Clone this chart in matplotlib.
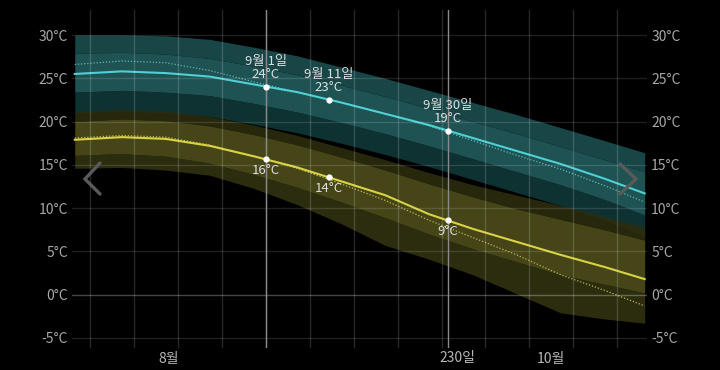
import numpy as np
import matplotlib
matplotlib.use('Agg')
import matplotlib.pyplot as plt
from matplotlib.lines import Line2D

plt.rcParams['font.family'] = ['Noto Sans CJK KR', 'DejaVu Sans']

# day index: 8월 1일 = 0
days = [0.5, 8, 15, 22, 29, 36, 43, 50, 57, 64, 71, 78, 85, 91.4]

# high temperature (teal)
hi_line = [25.5, 25.8, 25.6, 25.2, 24.3, 23.4, 22.2, 20.9, 19.6, 18.1, 16.6, 15.1, 13.4, 11.7]
hi_dot = [26.6, 27.0, 26.8, 25.9, 24.6, 23.4, 22.2, 20.9, 19.5, 17.8, 16.1, 14.5, 12.6, 10.7]
hi_outer_top = [30.0, 30.0, 29.9, 29.5, 28.6, 27.6, 26.3, 25.0, 23.6, 22.2, 20.8, 19.3, 17.8, 16.4]
hi_inner_top = [27.9, 28.0, 27.8, 27.3, 26.4, 25.4, 24.2, 22.9, 21.5, 20.0, 18.6, 17.1, 15.6, 14.2]
hi_inner_bot = [23.4, 23.6, 23.4, 23.0, 22.1, 21.1, 19.9, 18.6, 17.2, 15.7, 14.2, 12.7, 11.0, 9.2]
hi_outer_bot = [21.0, 21.2, 21.0, 20.6, 19.7, 18.7, 17.5, 16.2, 14.8, 13.3, 11.8, 10.3, 8.6, 6.7]

# low temperature (olive)
lo_line = [17.9, 18.2, 18.0, 17.2, 16.0, 14.7, 13.1, 11.5, 9.3, 7.6, 6.1, 4.6, 3.2, 1.8]
lo_dot = [18.1, 18.4, 18.2, 17.3, 16.0, 14.6, 12.8, 10.9, 8.6, 6.6, 4.6, 2.3, 0.5, -1.3]
lo_outer_top = [21.1, 21.4, 21.2, 20.6, 19.6, 18.4, 17.0, 15.6, 14.1, 12.7, 11.5, 10.3, 9.0, 7.8]
lo_inner_top = [20.0, 20.3, 20.1, 19.5, 18.5, 17.3, 15.9, 14.4, 12.8, 11.3, 9.9, 8.7, 7.5, 6.3]
lo_inner_bot = [16.1, 16.3, 16.0, 15.2, 13.9, 12.4, 10.7, 8.9, 7.0, 5.3, 3.8, 2.3, 1.2, 0.2]
lo_outer_bot = [14.6, 14.7, 14.4, 13.8, 12.3, 10.4, 8.2, 5.7, 4.1, 2.3, 0.1, -2.1, -2.8, -3.3]

# highlighted days: 9월 1일, 9월 11일, 9월 30일
mark_days = [31, 41, 60]
mark_names = ['9월 1일', '9월 11일', '9월 30일']
mark_hi = ['24°C', '23°C', '19°C']
mark_lo = ['16°C', '14°C', '9°C']

week_lines = [3, 10, 17, 24, 31, 38, 45, 52, 59, 66, 73, 80, 87]
month_pos = [15.5, 76.5]
month_names = ['8월', '10월']
yticks = [-5, 0, 5, 10, 15, 20, 25, 30]

fig = plt.figure(figsize=(7.2, 3.7), dpi=100, facecolor='black')
ax = fig.add_axes([72 / 720, 1 - 348 / 370, 575 / 720, 338 / 370])
ax.set_facecolor('black')
ax.set_xlim(0.06, 91.77)
ax.set_ylim(-6.16, 32.89)
for s in ax.spines.values():
    s.set_visible(False)

for t in yticks:
    ax.axhline(t, color='white', alpha=0.28 if t == 0 else 0.13, lw=1, zorder=6)
for d in week_lines:
    ax.axvline(d, color='white', alpha=0.16, lw=1, zorder=6)

# bands
ax.fill_between(days, hi_inner_top, hi_outer_top, color='#184546', lw=0, zorder=2)
ax.fill_between(days, hi_outer_bot, hi_inner_bot, color='#0e3132', lw=0, zorder=2)
ax.fill_between(days, hi_inner_bot, hi_inner_top, color='#1e5253', lw=0, zorder=2)
ax.fill_between(days, lo_inner_top, lo_outer_top, color='#2c2c0e', lw=0, alpha=0.9, zorder=3)
ax.fill_between(days, lo_outer_bot, lo_inner_bot, color='#323211', lw=0, alpha=0.9, zorder=3)
ax.fill_between(days, lo_inner_bot, lo_inner_top, color='#4a4a1a', lw=0, alpha=0.95, zorder=3)

ax.plot(days, hi_dot, color='#5db8b8', lw=0.9, ls=(0, (1, 1.5)), zorder=4)
ax.plot(days, hi_line, color='#4fd0d3', lw=1.5, zorder=5)
ax.plot(days, lo_dot, color='#bdb853', lw=0.9, ls=(0, (1, 1.5)), zorder=4)
ax.plot(days, lo_line, color='#d9d244', lw=1.5, zorder=5)

# highlighted day lines
for d in [31, 60]:
    ax.axvline(d, color='#8a8a8a', lw=1, zorder=6)

for d, name, th, tl in zip(mark_days, mark_names, mark_hi, mark_lo):
    yh = np.interp(d, days, hi_line)
    yl = np.interp(d, days, lo_line)
    ax.plot([d, d], [yh, yl], ls='none', marker='o', ms=3.5, color='white', zorder=7)
    ax.annotate(name + '\n' + th, (d, yh), xytext=(0, 4), textcoords='offset points',
                ha='center', va='bottom', fontsize=9.5, color='#dedede', linespacing=1.05, zorder=8)
    ax.annotate(tl, (d, yl), xytext=(0, -3), textcoords='offset points',
                ha='center', va='top', fontsize=9.5, color='#dedede', zorder=8)

ax.set_yticks(yticks)
ax.set_yticklabels([f'{t}°C' for t in yticks])
ax.set_xticks(month_pos)
ax.set_xticklabels(month_names)
ax.tick_params(axis='y', length=0, pad=3, labelsize=10, labelcolor='#a8a8a8',
               labelleft=True, labelright=True)
ax.tick_params(axis='x', length=0, pad=3, labelsize=10, labelcolor='#b8b8b8')

# day label under the 9월 30일 line
ax.text(58.7, -6.5, '230일', ha='left', va='top', fontsize=10, color='#b8b8b8', clip_on=False)

# navigation chevrons
for pts in ([(100, 163), (85, 179), (100, 194)], [(620, 164), (636, 179), (620, 194)]):
    xs = [p[0] / 720 for p in pts]
    ys = [1 - p[1] / 370 for p in pts]
    fig.add_artist(Line2D(xs, ys, transform=fig.transFigure, color='#5a5a5a', lw=2.4,
                          solid_capstyle='round', solid_joinstyle='miter', zorder=10))

fig.savefig('out.png', dpi=100, facecolor='black')
